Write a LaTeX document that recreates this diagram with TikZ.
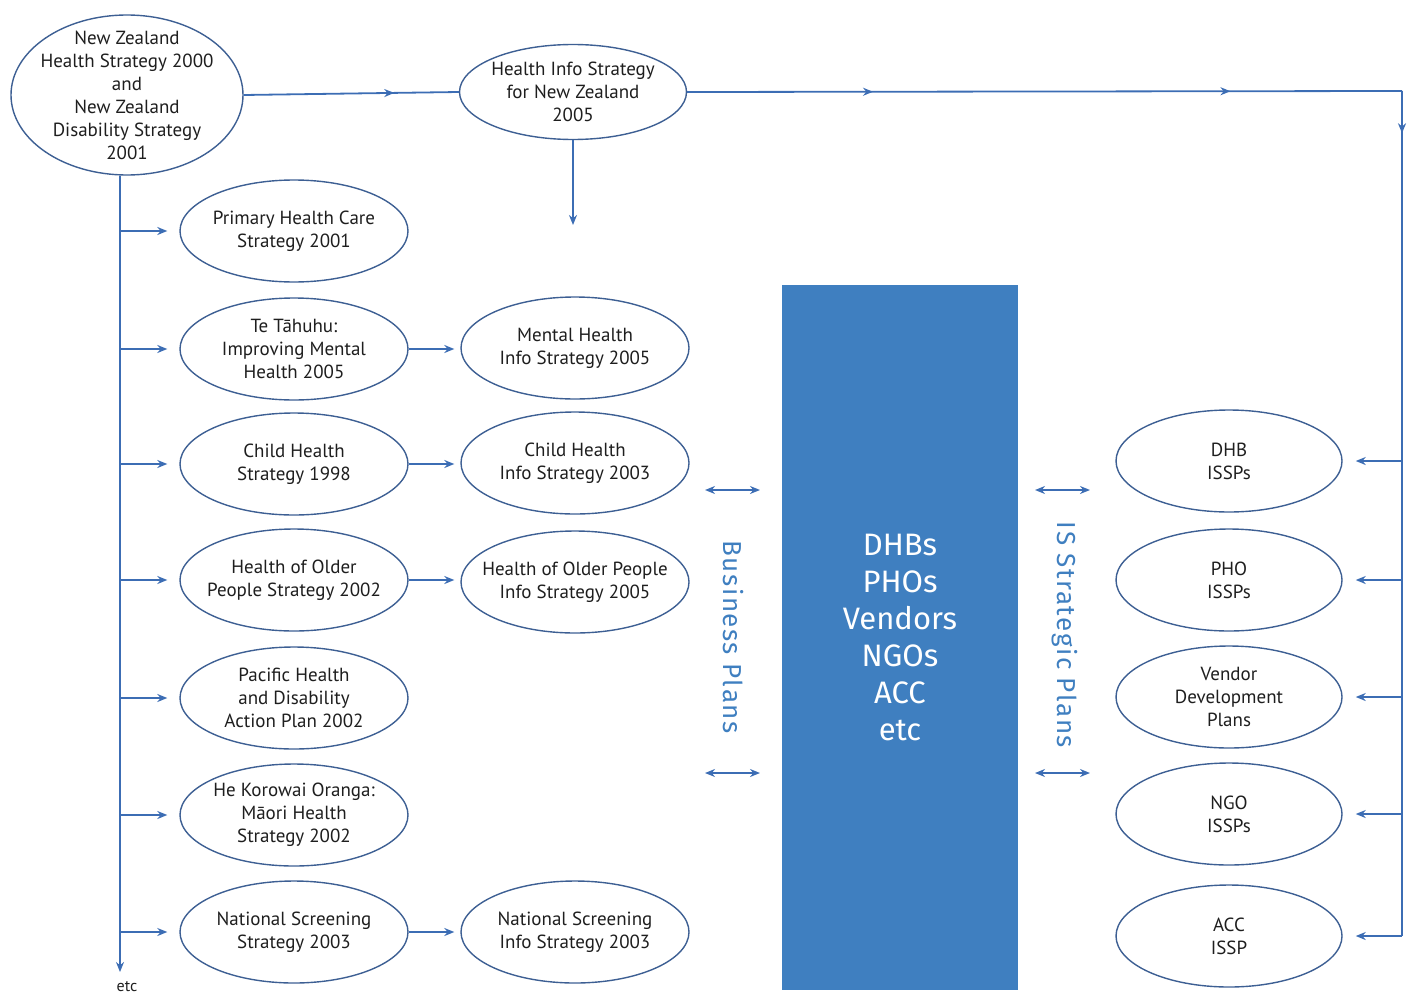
\documentclass[tikz,border=0pt]{standalone}
\usepackage{fontspec}
\setmainfont{PT Sans}
\newfontfamily\boxfont{Fira Sans}
\usetikzlibrary{shapes.geometric, arrows.meta, decorations.markings}
\definecolor{nz-line}{HTML}{3C6DB4}
\definecolor{nz-edge}{HTML}{3D5F93}
\definecolor{nz-box}{HTML}{3F7FC0}
\definecolor{nz-text}{HTML}{1E1E1E}

\tikzset{
    etext/.style={font=\fontsize{9.5}{11.5}\selectfont, text=nz-text, align=center},
    strat/.style={ellipse, draw=nz-edge, line width=0.7pt, inner sep=0pt,
        minimum width=114pt, minimum height=51pt, label={[etext]center:{#1}}},
    link/.style={nz-line, line width=0.9pt},
    feed/.style={link, -{Stealth[length=5pt,width=4pt]}},
    twoway/.style={link, {Stealth[length=5pt,width=4pt]}-{Stealth[length=5pt,width=4pt]}},
    midarrow/.style={postaction={decorate}, decoration={markings,
        mark=at position #1 with {\arrow{Stealth[length=5pt,width=4pt]}}}},
    plans/.style={font=\boxfont\fontsize{13}{15}\selectfont\addfontfeatures{LetterSpace=6},
        text=nz-box, rotate=-90}
}

\begin{document}
\begin{tikzpicture}[x=0.5pt, y=-0.5pt]
    \useasboundingbox (0,0) rectangle (1422,995);

    % national strategies
    \node[strat={New Zealand\\Health Strategy 2000\\and\\New Zealand\\Disability Strategy\\2001},
        minimum width=116pt, minimum height=80pt] (nz) at (127,95) {};
    \node[strat={Health Info Strategy\\for New Zealand\\2005},
        minimum width=113.5pt, minimum height=47.5pt] (his) at (573,92) {};

    % left column
    \node[strat={Primary Health Care\\Strategy 2001}] (phc) at (294,231) {};
    \node[strat={Te Tāhuhu:\\Improving Mental\\Health 2005}] (tet) at (294,349) {};
    \node[strat={Child Health\\Strategy 1998}] (chs) at (294,464) {};
    \node[strat={Health of Older\\People Strategy 2002}] (hop) at (294,580) {};
    \node[strat={Pacific Health\\and Disability\\Action Plan 2002}] (pac) at (294,698) {};
    \node[strat={He Korowai Oranga:\\Māori Health\\Strategy 2002}] (hko) at (294,815) {};
    \node[strat={National Screening\\Strategy 2003}] (nss) at (294,932) {};

    % info strategies
    \node[strat={Mental Health\\Info Strategy 2005}] (mhi) at (575,348) {};
    \node[strat={Child Health\\Info Strategy 2003}] (chi) at (575,463) {};
    \node[strat={Health of Older People\\Info Strategy 2005}] (hoi) at (575,582) {};
    \node[strat={National Screening\\Info Strategy 2003}] (nsi) at (575,932) {};

    % sector box
    \node[fill=nz-box, minimum width=118pt, minimum height=352.5pt, inner sep=0pt,
        font=\boxfont\fontsize{15.5}{18.5}\selectfont, text=white, align=center]
        (org) at (900,637.5) {DHBs\\PHOs\\Vendors\\NGOs\\ACC\\etc};

    % ISSPs
    \node[strat={DHB\\ISSPs}, minimum width=113pt] (dhb) at (1229,461) {};
    \node[strat={PHO\\ISSPs}, minimum width=113pt] (pho) at (1229,580) {};
    \node[strat={Vendor\\Development\\Plans}, minimum width=113pt] (ven) at (1229,697) {};
    \node[strat={NGO\\ISSPs}, minimum width=113pt] (ngo) at (1229,814) {};
    \node[strat={ACC\\ISSP}, minimum width=113pt] (acc) at (1229,936) {};

    \node[plans] (bp) at (733,637) {Business Plans};
    \node[plans] (isp) at (1065,635) {IS Strategic Plans};

    % connectors
    \coordinate (spine) at (120,972);
    \coordinate (corner) at (1402,91);
    \coordinate (hisdrop) at (573,225);
    \node[etext, font=\fontsize{8}{9}\selectfont] (etc) at (127,987) {etc};

    \draw[link, midarrow=0.7] (nz.east) -- (his.west);
    \draw[link, postaction={decorate}, decoration={markings,
        mark=at position 0.26 with {\arrow{Stealth[length=5pt,width=4pt]}},
        mark=at position 0.76 with {\arrow{Stealth[length=5pt,width=4pt]}}}]
        (his.east) -- (corner);
    \draw[link, midarrow=0.05] (corner) -- (corner |- acc.east);
    \draw[feed] (his) -- (hisdrop);
    \draw[feed] (spine |- nz.south) -- (spine);

    \foreach \n in {phc,tet,chs,hop,pac,hko,nss}
        \draw[feed, shorten >=6pt] (spine |- \n.west) -- (\n.west);
    \foreach \a/\b in {tet/mhi, chs/chi, hop/hoi, nss/nsi}
        \draw[feed, shorten >=3pt] (\a.east) -- (\a.east -| \b.west);
    \foreach \n in {dhb,pho,ven,ngo,acc}
        \draw[feed, shorten >=6.5pt] (corner |- \n.east) -- (\n.east);

    \foreach \y [count=\i] in {490,773} {
        \coordinate (bpl\i) at (705,\y);
        \coordinate (bpr\i) at (760,\y);
        \coordinate (isl\i) at (1035,\y);
        \coordinate (isr\i) at (1090,\y);
        \draw[twoway] (bpl\i) -- (bpr\i);
        \draw[twoway] (isl\i) -- (isr\i);
    }
\end{tikzpicture}
\end{document}
